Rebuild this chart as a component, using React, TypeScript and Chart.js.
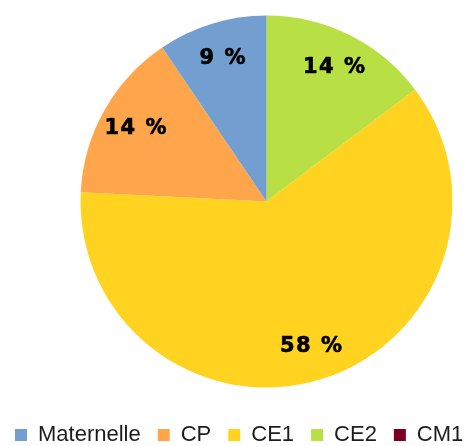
import React, { useEffect, useRef } from "react";
import { Chart, registerables } from "chart.js";

Chart.register(...registerables);

// Categories (legend order) and their shares in percent
const categories: string[] = ["Maternelle", "CP", "CE1", "CE2", "CM1"];
const values: number[] = [9, 14, 58, 14, 0];
const colors: string[] = ["#729fcf", "#ffa64d", "#ffd320", "#b8e044", "#7e0021"];

// The original draws slices counter-clockwise from the top; Chart.js draws
// clockwise, so the dataset is fed in reverse and the legend is reversed back.
const pieLabels = [...categories].reverse();
const pieValues = [...values].reverse();
const pieColors = [...colors].reverse();

const valueLabelPlugin = {
  id: "valueLabels",
  afterDatasetsDraw(chart: any) {
    const { ctx } = chart;
    const meta = chart.getDatasetMeta(0);
    const data = chart.data.datasets[0].data as number[];
    ctx.save();
    ctx.font = "bold 21px 'DejaVu Sans', sans-serif";
    (ctx as any).letterSpacing = "1.5px";
    ctx.fillStyle = "#000000";
    ctx.strokeStyle = "#000000";
    ctx.lineWidth = 0.6;
    ctx.lineJoin = "round";
    ctx.textAlign = "center";
    ctx.textBaseline = "middle";
    meta.data.forEach((arc: any, i: number) => {
      const v = data[i];
      if (!v) return;
      const { x, y, startAngle, endAngle, outerRadius } = arc.getProps(
        ["x", "y", "startAngle", "endAngle", "outerRadius"],
        true
      );
      const mid = (startAngle + endAngle) / 2;
      const r = outerRadius * 0.81;
      const tx = x + Math.cos(mid) * r + 1;
      const ty = y + Math.sin(mid) * r + 1;
      ctx.fillText(v + " %", tx, ty);
      ctx.strokeText(v + " %", tx, ty);
    });
    ctx.restore();
  },
};

export default function App() {
  const canvasRef = useRef<HTMLCanvasElement | null>(null);

  useEffect(() => {
    if (!canvasRef.current) return;
    const chart = new Chart(canvasRef.current, {
      type: "pie",
      data: {
        labels: pieLabels,
        datasets: [
          {
            data: pieValues,
            backgroundColor: pieColors,
            borderWidth: 0,
            radius: 186,
          },
        ],
      },
      options: {
        responsive: false,
        animation: false,
        layout: { padding: { left: 0, right: 3, top: 0, bottom: 0 } },
        plugins: {
          tooltip: { enabled: false },
          legend: {
            display: true,
            position: "bottom",
            align: "start",
            reverse: true,
            labels: {
              boxWidth: 12,
              boxHeight: 12,
              padding: 17,
              color: "#1c1c1c",
              font: { family: "'Liberation Sans', Arial, sans-serif", size: 22 },
            },
          },
        },
      },
      plugins: [valueLabelPlugin],
    });
    return () => chart.destroy();
  }, []);

  return (
    <div
      style={{
        position: "fixed",
        left: 0,
        top: 0,
        width: 470,
        height: 446,
        overflow: "hidden",
        background: "#ffffff",
      }}
    >
      <canvas
        ref={canvasRef}
        width={540}
        height={460}
        style={{ position: "absolute", left: -2, top: -4, display: "block" }}
      />
    </div>
  );
}
